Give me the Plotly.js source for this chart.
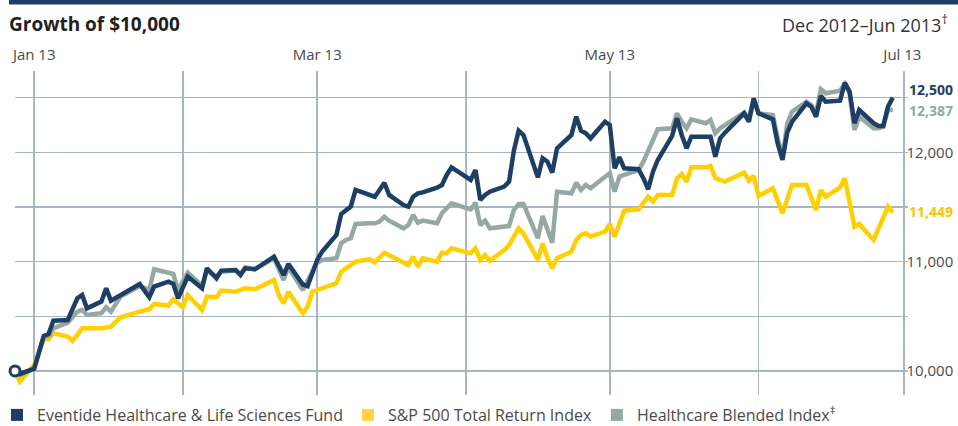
<!DOCTYPE html>
<html>
<head>
<meta charset="utf-8">
<script src="https://cdn.plot.ly/plotly-3.0.1.min.js"></script>
<style>
  html, body { margin: 0; padding: 0; background: #ffffff; }
  #chart { width: 958px; height: 426px; }
</style>
</head>
<body>
<div id="chart"></div>
<script>
// ---- Data ----
const seriesNames = ['Eventide Healthcare &amp; Life Sciences Fund', 'S&amp;P 500 Total Return Index', 'Healthcare Blended Index<sup>\u2021</sup>'];

const fundDates = ['2012-12-27','2012-12-28','2012-12-31','2013-01-02','2013-01-03','2013-01-04','2013-01-07','2013-01-09','2013-01-10','2013-01-11',
  '2013-01-14','2013-01-15','2013-01-16','2013-01-18','2013-01-22','2013-01-24','2013-01-25','2013-01-28','2013-01-29','2013-01-30',
  '2013-02-01','2013-02-04','2013-02-05','2013-02-07','2013-02-08','2013-02-11','2013-02-12','2013-02-13','2013-02-15','2013-02-19',
  '2013-02-21','2013-02-22','2013-02-25','2013-02-26','2013-02-27','2013-02-28','2013-03-01','2013-03-04','2013-03-05','2013-03-06',
  '2013-03-07','2013-03-08','2013-03-11','2013-03-12','2013-03-13','2013-03-14','2013-03-15','2013-03-18','2013-03-19','2013-03-20',
  '2013-03-21','2013-03-22','2013-03-25','2013-03-26','2013-03-27','2013-03-28','2013-04-01','2013-04-02','2013-04-03','2013-04-04',
  '2013-04-05','2013-04-08','2013-04-09','2013-04-10','2013-04-11','2013-04-12','2013-04-15','2013-04-16','2013-04-17','2013-04-18',
  '2013-04-19','2013-04-22','2013-04-23','2013-04-24','2013-04-25','2013-04-26','2013-04-29','2013-04-30','2013-05-01','2013-05-02',
  '2013-05-03','2013-05-06','2013-05-07','2013-05-08','2013-05-09','2013-05-10','2013-05-13','2013-05-14','2013-05-15','2013-05-16',
  '2013-05-17','2013-05-20','2013-05-21','2013-05-22','2013-05-23','2013-05-24','2013-05-28','2013-05-29','2013-05-30','2013-05-31',
  '2013-06-03','2013-06-04','2013-06-05','2013-06-06','2013-06-07','2013-06-10','2013-06-11','2013-06-12','2013-06-13','2013-06-14',
  '2013-06-17','2013-06-18','2013-06-19','2013-06-20','2013-06-21','2013-06-24','2013-06-25','2013-06-26','2013-06-27','2013-06-28'];
const fundValues = [10000,9973,10021,10320,10338,10460,10466,10665,10695,10573,
  10634,10756,10643,10695,10796,10674,10771,10817,10796,10665,
  10863,10756,10939,10848,10918,10924,10878,10939,10930,11045,
  10878,10979,10790,10775,10908,11015,11091,11244,11436,11470,
  11503,11656,11610,11594,11656,11722,11610,11518,11503,11594,
  11625,11634,11677,11701,11793,11863,11747,11838,11564,11610,
  11640,11686,11732,12015,12198,12159,11771,11946,11915,11814,
  12037,12159,12326,12198,12174,12128,12280,12250,11854,11955,
  11854,11845,11763,11662,11823,11930,12150,12311,12159,12037,
  12143,12143,12143,11960,12128,12180,12357,12280,12494,12357,
  12302,12082,11930,12183,12280,12449,12418,12326,12515,12463,
  12472,12637,12555,12266,12387,12266,12241,12241,12418,12500];

const spDates = ['2012-12-27','2012-12-28','2012-12-31','2013-01-02','2013-01-03','2013-01-04','2013-01-07','2013-01-08','2013-01-10','2013-01-14',
  '2013-01-16','2013-01-18','2013-01-22','2013-01-24','2013-01-25','2013-01-28','2013-01-29','2013-01-30','2013-01-31','2013-02-01',
  '2013-02-04','2013-02-05','2013-02-07','2013-02-08','2013-02-11','2013-02-13','2013-02-15','2013-02-19','2013-02-20','2013-02-21',
  '2013-02-22','2013-02-25','2013-02-26','2013-02-27','2013-02-28','2013-03-01','2013-03-04','2013-03-05','2013-03-06','2013-03-07',
  '2013-03-08','2013-03-11','2013-03-12','2013-03-14','2013-03-18','2013-03-19','2013-03-20','2013-03-21','2013-03-22','2013-03-25',
  '2013-03-26','2013-03-27','2013-03-28','2013-04-01','2013-04-02','2013-04-03','2013-04-04','2013-04-05','2013-04-08','2013-04-09',
  '2013-04-11','2013-04-12','2013-04-15','2013-04-16','2013-04-17','2013-04-18','2013-04-19','2013-04-22','2013-04-23','2013-04-24',
  '2013-04-25','2013-04-26','2013-04-29','2013-04-30','2013-05-01','2013-05-03','2013-05-06','2013-05-08','2013-05-09','2013-05-10',
  '2013-05-13','2013-05-14','2013-05-15','2013-05-16','2013-05-17','2013-05-20','2013-05-21','2013-05-22','2013-05-24','2013-05-28',
  '2013-05-29','2013-05-30','2013-05-31','2013-06-03','2013-06-05','2013-06-06','2013-06-07','2013-06-10','2013-06-12','2013-06-13',
  '2013-06-14','2013-06-17','2013-06-18','2013-06-20','2013-06-21','2013-06-24','2013-06-27','2013-06-28'];
const spValues = [10000,9902,10055,10290,10290,10345,10314,10274,10390,10390,
  10405,10491,10542,10564,10613,10597,10656,10613,10583,10695,
  10558,10680,10674,10735,10725,10756,10747,10832,10695,10619,
  10725,10528,10588,10725,10741,10756,10802,10908,10939,10979,
  11000,11022,10994,11082,11000,10970,11045,10954,11031,11000,
  11082,11076,11122,11076,11122,11015,11061,11006,11107,11152,
  11305,11259,11015,11168,11031,10939,11031,11091,11198,11244,
  11259,11229,11274,11345,11229,11466,11479,11594,11549,11610,
  11610,11760,11800,11731,11863,11863,11875,11763,11732,11814,
  11741,11784,11601,11671,11442,11564,11701,11701,11473,11656,
  11594,11680,11763,11320,11345,11198,11503,11449];

const blendDates = ['2012-12-27','2012-12-28','2012-12-31','2013-01-02','2013-01-03','2013-01-04','2013-01-07','2013-01-09','2013-01-10','2013-01-11',
  '2013-01-14','2013-01-15','2013-01-16','2013-01-18','2013-01-22','2013-01-24','2013-01-25','2013-01-28','2013-01-29','2013-01-30',
  '2013-02-01','2013-02-04','2013-02-05','2013-02-07','2013-02-08','2013-02-11','2013-02-12','2013-02-13','2013-02-15','2013-02-19',
  '2013-02-21','2013-02-22','2013-02-25','2013-02-27','2013-02-28','2013-03-01','2013-03-04','2013-03-05','2013-03-06','2013-03-07',
  '2013-03-08','2013-03-11','2013-03-12','2013-03-13','2013-03-14','2013-03-15','2013-03-18','2013-03-19','2013-03-20','2013-03-21',
  '2013-03-22','2013-03-25','2013-03-26','2013-03-27','2013-03-28','2013-04-01','2013-04-02','2013-04-03','2013-04-04','2013-04-05',
  '2013-04-08','2013-04-09','2013-04-10','2013-04-11','2013-04-12','2013-04-15','2013-04-16','2013-04-17','2013-04-18','2013-04-19',
  '2013-04-22','2013-04-23','2013-04-24','2013-04-25','2013-04-26','2013-04-29','2013-04-30','2013-05-01','2013-05-02','2013-05-03',
  '2013-05-06','2013-05-07','2013-05-08','2013-05-09','2013-05-10','2013-05-13','2013-05-14','2013-05-15','2013-05-16','2013-05-17',
  '2013-05-20','2013-05-21','2013-05-22','2013-05-23','2013-05-24','2013-05-28','2013-05-29','2013-05-30','2013-05-31','2013-06-03',
  '2013-06-04','2013-06-05','2013-06-06','2013-06-07','2013-06-10','2013-06-11','2013-06-12','2013-06-13','2013-06-14','2013-06-17',
  '2013-06-18','2013-06-19','2013-06-20','2013-06-21','2013-06-24','2013-06-25','2013-06-26','2013-06-27','2013-06-28'];
const blendValues = [10000,9963,10025,10314,10320,10390,10442,10542,10558,10512,
  10528,10583,10542,10680,10777,10741,10930,10899,10887,10741,
  10899,10777,10918,10863,10908,10918,10887,10949,10930,11031,
  10832,10949,10741,10910,10990,11015,11031,11168,11198,11214,
  11345,11351,11351,11366,11411,11375,11305,11335,11427,11357,
  11375,11351,11442,11488,11534,11478,11539,11335,11375,11305,
  11320,11326,11473,11528,11528,11214,11417,11305,11174,11640,
  11625,11722,11656,11701,11671,11777,11808,11640,11777,11793,
  11838,11915,12006,12113,12211,12220,12357,12280,12220,12302,
  12266,12296,12174,12220,12250,12363,12311,12485,12357,12342,
  12128,11960,12266,12372,12463,12433,12357,12577,12540,12564,
  12625,12540,12204,12326,12220,12220,12235,12387,12387];

// axis ticks: labelled month-ends, plus unlabelled month-end gridlines
const monthTicks = ['2012-12-31','2013-02-28','2013-04-30','2013-06-30'];
const monthLabels = ['Jan 13','Mar 13','May 13','Jul 13'];
const monthGridOnly = ['2013-01-31','2013-03-31','2013-05-31'];
const valueTicks = [10000,11000,12000];
const valueLabels = ['10,000','11,000','12,000'];
const valueGridOnly = [10500,11500,12500];
const endLabels = ['12,500','11,449','12,387'];

// ---- Styling ----
const FONT = 'Open Sans, Noto Sans, sans-serif';
const NAVY = '#1d3f63';
const GOLD = '#ffd000';
const SAGE = '#95a8a4';
const GRID = '#a8b5c5';
const TXT = '#4a4a4a';

const traces = [
  {x: spDates, y: spValues, mode: 'lines', line: {color: GOLD, width: 4.5}, showlegend: false, hoverinfo: 'skip'},
  {x: blendDates, y: blendValues, mode: 'lines', line: {color: SAGE, width: 4.5}, showlegend: false, hoverinfo: 'skip'},
  {x: fundDates, y: fundValues, mode: 'lines', line: {color: NAVY, width: 4.5}, showlegend: false, hoverinfo: 'skip'},
  {x: [fundDates[0]], y: [fundValues[0]], mode: 'markers', cliponaxis: false, showlegend: false, hoverinfo: 'skip',
   marker: {symbol: 'circle', size: 10, color: '#ffffff', line: {color: NAVY, width: 3}}},
  // legend entries (square swatches)
  {x: [null], y: [null], mode: 'markers', name: seriesNames[0], marker: {symbol: 'square', size: 12, color: NAVY}},
  {x: [null], y: [null], mode: 'markers', name: seriesNames[1], marker: {symbol: 'square', size: 12, color: '#ffd23f'}},
  {x: [null], y: [null], mode: 'markers', name: seriesNames[2], marker: {symbol: 'square', size: 12, color: SAGE}}
];

const L = 15, R = 903, T = 71, B = 395, W = 958, H = 426;
const px = p => (p - L) / (R - L);
const py = p => (B - p) / (B - T);

const layout = {
  width: W, height: H,
  margin: {l: L, r: W - R, t: T, b: H - B, pad: 0, autoexpand: false},
  paper_bgcolor: '#ffffff', plot_bgcolor: '#ffffff',
  font: {family: FONT, color: TXT},
  hovermode: false,
  title: {text: '<b>Growth of $10,000</b>', font: {family: FONT, size: 19, color: '#231f20'},
          xref: 'container', yref: 'container', x: 9 / W, xanchor: 'left', y: 1 - 24 / H, yanchor: 'middle'},
  xaxis: {type: 'date', side: 'top', range: ['2012-12-27', '2013-06-30 03:00'],
          tickmode: 'array', tickvals: monthTicks, ticktext: monthLabels,
          showgrid: true, gridcolor: GRID, gridwidth: 1.5, zeroline: false, showline: false,
          minor: {tickmode: 'array', tickvals: monthGridOnly, showgrid: true, gridcolor: GRID, gridwidth: 1.5, ticks: ''},
          ticks: '', ticklabelstandoff: 7, tickfont: {family: FONT, size: 15, color: TXT}, fixedrange: true},
  yaxis: {side: 'right', range: [9780, 12744], tickmode: 'array', tickvals: valueTicks, ticktext: valueLabels,
          showgrid: true, gridcolor: GRID, gridwidth: 1.5, zeroline: false,
          showline: true, linecolor: GRID, linewidth: 1.5, ticks: 'outside', ticklen: 3, tickcolor: GRID, tickwidth: 1.5,
          minor: {tickmode: 'array', tickvals: valueGridOnly, showgrid: true, gridcolor: GRID, gridwidth: 1.5,
                  ticks: 'outside', ticklen: 3, tickcolor: GRID, tickwidth: 1.5},
          ticklabelstandoff: -4,
          tickfont: {family: FONT, size: 15, color: TXT}, fixedrange: true},
  showlegend: true,
  legend: {orientation: 'h', x: px(-3), xanchor: 'left', y: py(398), yanchor: 'top',
           font: {family: FONT, size: 16, color: TXT}, bgcolor: 'rgba(0,0,0,0)', traceorder: 'normal'},
  shapes: [
    {type: 'rect', xref: 'paper', yref: 'paper', x0: px(9), x1: px(958), y0: py(4.5), y1: py(0), fillcolor: NAVY, line: {width: 0}, layer: 'above'}
  ],
  annotations: [
    {xref: 'paper', yref: 'paper', x: px(950), y: py(24), xanchor: 'right', yanchor: 'middle', showarrow: false,
     text: 'Dec 2012\u2013Jun 2013<sup>\u2020</sup>', font: {family: FONT, size: 18, color: '#333333'}},
    {xref: 'paper', yref: 'y', x: 1, y: fundValues[fundValues.length - 1], xanchor: 'left', yanchor: 'middle', xshift: 4, yshift: 8,
     showarrow: false, text: '<b>' + endLabels[0] + '</b>', font: {family: FONT, size: 14, color: NAVY}},
    {xref: 'paper', yref: 'y', x: 1, y: blendValues[blendValues.length - 1], xanchor: 'left', yanchor: 'middle', xshift: 4, yshift: 0,
     showarrow: false, text: '<b>' + endLabels[2] + '</b>', font: {family: FONT, size: 14, color: SAGE}},
    {xref: 'paper', yref: 'y', x: 1, y: spValues[spValues.length - 1], xanchor: 'left', yanchor: 'middle', xshift: 4, yshift: 1,
     showarrow: false, text: '<b>' + endLabels[1] + '</b>', font: {family: FONT, size: 14, color: '#f7c600'}}
  ]
};

Plotly.newPlot('chart', traces, layout, {staticPlot: true, displayModeBar: false});
</script>
</body>
</html>
